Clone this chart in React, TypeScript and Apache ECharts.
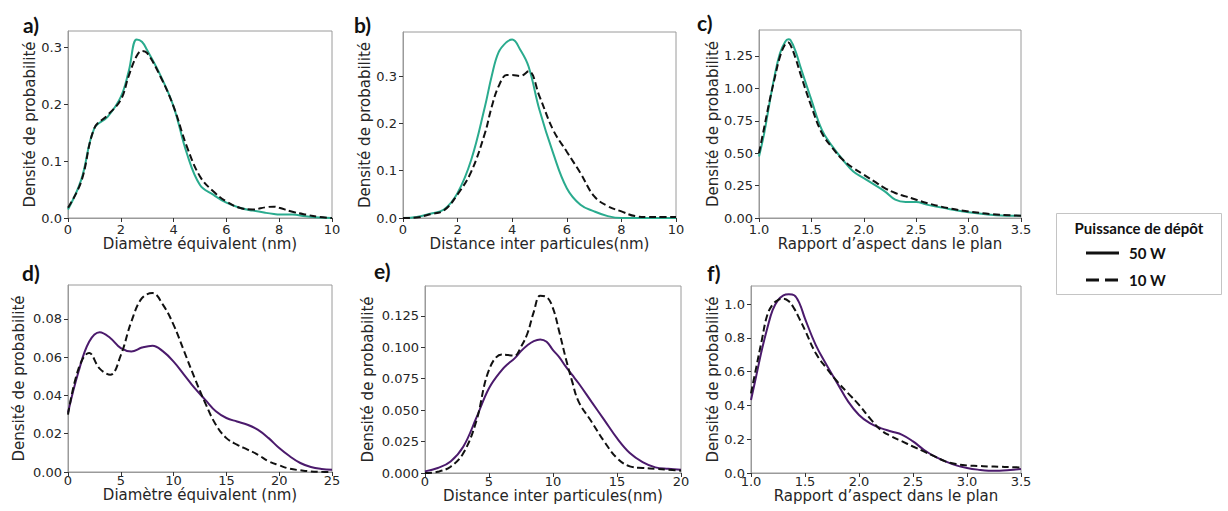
import React, { useEffect, useRef } from "react";
import * as echarts from "echarts";

// ---- data ----
const aX = [0, 0.5, 1, 1.5, 2, 2.3, 2.6, 2.8, 3, 3.5, 4, 4.5, 5, 5.5, 6, 6.5, 7, 7.5, 7.8, 8, 8.5, 9, 9.5, 10];
const a50 = [0.015, 0.067, 0.158, 0.178, 0.213, 0.258, 0.314, 0.31, 0.295, 0.251, 0.196, 0.114, 0.058, 0.041, 0.027, 0.018, 0.013, 0.009, 0.007, 0.006, 0.006, 0.003, 0.001, 0];
const a10 = [0.018, 0.064, 0.158, 0.181, 0.208, 0.25, 0.285, 0.294, 0.29, 0.249, 0.196, 0.126, 0.073, 0.047, 0.029, 0.018, 0.015, 0.019, 0.02, 0.018, 0.011, 0.006, 0.002, 0];

const bX = [0, 0.5, 1, 1.5, 2, 2.5, 3, 3.25, 3.5, 3.8, 4, 4.3, 4.6, 5, 5.5, 6, 6.5, 7, 7.5, 8, 8.5, 9, 9.5, 10];
const b50 = [0, 0.002, 0.009, 0.018, 0.053, 0.123, 0.235, 0.3, 0.35, 0.372, 0.377, 0.355, 0.32, 0.228, 0.137, 0.063, 0.028, 0.014, 0.004, 0, 0, 0, 0, 0];
const b10 = [0, 0.001, 0.008, 0.016, 0.05, 0.098, 0.179, 0.235, 0.278, 0.302, 0.302, 0.3, 0.31, 0.257, 0.186, 0.14, 0.095, 0.046, 0.025, 0.014, 0.004, 0.002, 0.002, 0.002];

const cX = [1.0, 1.05, 1.1, 1.15, 1.2, 1.25, 1.28, 1.3, 1.35, 1.4, 1.5, 1.6, 1.7, 1.8, 1.9, 2.0, 2.1, 2.2, 2.3, 2.4, 2.5, 2.6, 2.8, 3.0, 3.2, 3.4, 3.5];
const c50 = [0.475, 0.655, 0.885, 1.1, 1.27, 1.36, 1.378, 1.373, 1.283, 1.155, 0.911, 0.68, 0.552, 0.449, 0.359, 0.308, 0.257, 0.205, 0.141, 0.123, 0.123, 0.103, 0.072, 0.044, 0.026, 0.018, 0.018];
const c10 = [0.5, 0.7, 0.9, 1.08, 1.245, 1.34, 1.353, 1.335, 1.23, 1.1, 0.86, 0.655, 0.54, 0.449, 0.385, 0.334, 0.282, 0.231, 0.193, 0.167, 0.141, 0.116, 0.077, 0.051, 0.031, 0.021, 0.018];

const dX = [0, 1, 2, 3, 4, 5, 6, 7, 8, 9, 10, 11, 12, 13, 14, 15, 16, 17, 18, 19, 20, 21, 22, 23, 24, 25];
const d50 = [0.031, 0.0525, 0.068, 0.073, 0.07, 0.0647, 0.063, 0.065, 0.066, 0.063, 0.0577, 0.0508, 0.0438, 0.0377, 0.0317, 0.0282, 0.0264, 0.0247, 0.022, 0.0177, 0.0125, 0.0082, 0.0047, 0.0026, 0.0016, 0.0012];
const d10 = [0.03, 0.054, 0.0622, 0.054, 0.0508, 0.061, 0.0786, 0.0908, 0.0935, 0.0873, 0.0769, 0.063, 0.049, 0.036, 0.0247, 0.0177, 0.0143, 0.0117, 0.009, 0.0056, 0.0035, 0.0017, 0.0009, 0.0003, 0.0001, 0];

const eX = [0, 1, 2, 3, 4, 5, 6, 6.5, 7, 7.5, 8, 8.5, 9, 9.5, 10, 10.5, 11, 11.5, 12, 13, 14, 15, 16, 17, 18, 19, 20];
const e50 = [0.0013, 0.004, 0.0092, 0.0211, 0.0436, 0.0674, 0.0819, 0.087, 0.0912, 0.097, 0.1017, 0.105, 0.1063, 0.1044, 0.0978, 0.092, 0.0846, 0.078, 0.0714, 0.0568, 0.0423, 0.0277, 0.0159, 0.0087, 0.0045, 0.0034, 0.0026];
const e10 = [0, 0.001, 0.005, 0.0159, 0.041, 0.082, 0.0943, 0.0938, 0.0935, 0.1004, 0.111, 0.1282, 0.141, 0.14, 0.131, 0.112, 0.0912, 0.0727, 0.0568, 0.041, 0.0251, 0.0119, 0.0053, 0.004, 0.0034, 0.0026, 0.0018];

const fX = [1.0, 1.05, 1.1, 1.15, 1.2, 1.25, 1.3, 1.35, 1.4, 1.45, 1.5, 1.6, 1.7, 1.8, 1.9, 2.0, 2.1, 2.2, 2.3, 2.4, 2.5, 2.6, 2.7, 2.8, 2.9, 3.0, 3.1, 3.2, 3.3, 3.4, 3.5];
const f50 = [0.433, 0.58, 0.728, 0.856, 0.965, 1.024, 1.053, 1.059, 1.053, 1.004, 0.915, 0.758, 0.64, 0.531, 0.423, 0.344, 0.295, 0.266, 0.246, 0.226, 0.187, 0.138, 0.098, 0.069, 0.045, 0.03, 0.02, 0.014, 0.014, 0.018, 0.024];
const f10 = [0.472, 0.63, 0.787, 0.935, 0.998, 1.025, 1.033, 1.018, 0.974, 0.912, 0.846, 0.709, 0.62, 0.541, 0.472, 0.404, 0.325, 0.256, 0.217, 0.187, 0.157, 0.128, 0.098, 0.069, 0.053, 0.045, 0.042, 0.039, 0.037, 0.035, 0.033];

const panelLetters = ["a)", "b)", "c)", "d)", "e)", "f)"];
const xNames = [
  "Diamètre équivalent (nm)",
  "Distance inter particules(nm)",
  "Rapport d’aspect dans le plan",
  "Diamètre équivalent (nm)",
  "Distance inter particules(nm)",
  "Rapport d’aspect dans le plan",
];
const yName = "Densité de probabilité";
const legendTitle = "Puissance de dépôt";
const legendLabels = ["50 W", "10 W"];

const TEAL = "#2aab8e";
const PURPLE = "#4b1a6c";

type Panel = {
  xs: number[]; s50: number[]; s10: number[]; color: string;
  grid: { left: number; top: number; width: number; height: number };
  xMin: number; xMax: number; xInt: number; xDec: number;
  yMax: number; yInt: number; yDec: number; yGap: number; xGap: number; xMargin: number;
  letter: [number, number];
};

const panels: Panel[] = [
  { xs: aX, s50: a50, s10: a10, color: TEAL, grid: { left: 68, top: 31, width: 264, height: 187 }, xMin: 0, xMax: 10, xInt: 2, xDec: 0, yMax: 0.329, yInt: 0.1, yDec: 1, yGap: 30, xGap: 16, xMargin: 5, letter: [23, 14] },
  { xs: bX, s50: b50, s10: b10, color: TEAL, grid: { left: 403, top: 32, width: 273, height: 186 }, xMin: 0, xMax: 10, xInt: 2, xDec: 0, yMax: 0.393, yInt: 0.1, yDec: 1, yGap: 28, xGap: 16, xMargin: 5, letter: [354, 14] },
  { xs: cX, s50: c50, s10: c10, color: TEAL, grid: { left: 759, top: 30, width: 262, height: 188 }, xMin: 1, xMax: 3.5, xInt: 0.5, xDec: 1, yMax: 1.45, yInt: 0.25, yDec: 2, yGap: 39, xGap: 16, xMargin: 5, letter: [697, 12] },
  { xs: dX, s50: d50, s10: d10, color: PURPLE, grid: { left: 68, top: 285, width: 264, height: 187 }, xMin: 0, xMax: 25, xInt: 5, xDec: 0, yMax: 0.0977, yInt: 0.02, yDec: 2, yGap: 42, xGap: 8, xMargin: 2, letter: [22, 262] },
  { xs: eX, s50: e50, s10: e10, color: PURPLE, grid: { left: 425, top: 286, width: 256, height: 187 }, xMin: 0, xMax: 20, xInt: 5, xDec: 0, yMax: 0.1488, yInt: 0.025, yDec: 3, yGap: 50, xGap: 8, xMargin: 2, letter: [374, 260] },
  { xs: fX, s50: f50, s10: f10, color: PURPLE, grid: { left: 751, top: 286, width: 270, height: 187 }, xMin: 1, xMax: 3.5, xInt: 0.5, xDec: 1, yMax: 1.108, yInt: 0.2, yDec: 1, yGap: 31, xGap: 8, xMargin: 2, letter: [707, 262] },
];

const TXT = "#262626";
const FONT = "DejaVu Sans";

export default function App() {
  const ref = useRef<HTMLDivElement>(null);
  useEffect(() => {
    document.body.style.margin = "0";
    if (!ref.current) return;
    const chart = echarts.init(ref.current, null, { renderer: "svg" });
    const grids: any[] = [];
    const xAxes: any[] = [];
    const yAxes: any[] = [];
    const series: any[] = [];
    const graphics: any[] = [];
    panels.forEach((p, i) => {
      grids.push({ ...p.grid, show: true, borderColor: "#9a9a9a", borderWidth: 1, containLabel: false });
      xAxes.push({
        type: "value", gridIndex: i, min: p.xMin, max: p.xMax, interval: p.xInt,
        name: xNames[i], nameLocation: "middle", nameGap: p.xGap,
        nameTextStyle: { fontFamily: FONT, fontSize: 15, color: TXT },
        axisLine: { show: true, onZero: false, lineStyle: { color: "#9a9a9a" } },
        axisTick: { show: true, length: 4, lineStyle: { color: "#333" } },
        axisLabel: { fontFamily: FONT, fontSize: 13, color: TXT, margin: p.xMargin, formatter: (v: number) => v.toFixed(p.xDec) },
        splitLine: { show: false },
      });
      yAxes.push({
        type: "value", gridIndex: i, min: 0, max: p.yMax, interval: p.yInt,
        name: yName, nameLocation: "middle", nameGap: p.yGap,
        nameTextStyle: { fontFamily: FONT, fontSize: 15, color: TXT },
        axisLine: { show: true, lineStyle: { color: "#9a9a9a" } },
        axisTick: { show: true, length: 4, lineStyle: { color: "#333" } },
        axisLabel: { fontFamily: FONT, fontSize: 13, color: TXT, margin: 6, showMaxLabel: false, formatter: (v: number) => v.toFixed(p.yDec) },
        splitLine: { show: false },
      });
      series.push({
        type: "line", xAxisIndex: i, yAxisIndex: i, smooth: 0.4, showSymbol: false,
        data: p.xs.map((x, k) => [x, p.s50[k]]),
        lineStyle: { color: p.color, width: 2 }, z: 2,
      });
      series.push({
        type: "line", xAxisIndex: i, yAxisIndex: i, smooth: 0.4, showSymbol: false,
        data: p.xs.map((x, k) => [x, p.s10[k]]),
        lineStyle: { color: "#111", width: 2, type: [7, 3.5] }, z: 3,
      });
      graphics.push({
        type: "text", x: p.letter[0], y: p.letter[1],
        style: { text: panelLetters[i], font: "bold 21px Lato", fill: "#111" },
      });
    });
    // legend box
    graphics.push({ type: "rect", shape: { x: 1056.5, y: 213.5, width: 165, height: 81 }, style: { fill: "#fff", stroke: "#c4c4c4", lineWidth: 1 } });
    graphics.push({ type: "text", x: 1139, y: 228, style: { text: legendTitle, font: "bold 15px Lato", fill: "#111", align: "center", verticalAlign: "middle" } });
    graphics.push({ type: "line", shape: { x1: 1086, y1: 253, x2: 1119, y2: 253 }, style: { stroke: "#111", lineWidth: 3 } });
    graphics.push({ type: "line", shape: { x1: 1086, y1: 280, x2: 1119, y2: 280 }, style: { stroke: "#111", lineWidth: 3, lineDash: [13, 6] } });
    graphics.push({ type: "text", x: 1129, y: 253, style: { text: legendLabels[0], font: "bold 15px Lato", fill: "#111", verticalAlign: "middle" } });
    graphics.push({ type: "text", x: 1129, y: 280, style: { text: legendLabels[1], font: "bold 15px Lato", fill: "#111", verticalAlign: "middle" } });

    chart.setOption({
      animation: false,
      backgroundColor: "#fff",
      grid: grids,
      xAxis: xAxes,
      yAxis: yAxes,
      series,
      graphic: graphics,
    });
    return () => chart.dispose();
  }, []);
  return <div ref={ref} style={{ width: 1228, height: 511 }} />;
}
